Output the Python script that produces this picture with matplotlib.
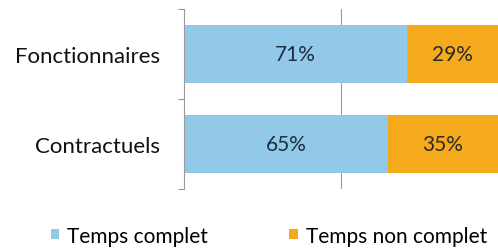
import matplotlib.pyplot as plt
import numpy as np

categories = ['Contractuels', 'Fonctionnaires']
temps_complet = [65, 71]
temps_non_complet = [35, 29]
series_names = ['Temps complet', 'Temps non complet']

blue = '#93c9e8'
orange = '#f5aa1c'

plt.rcParams['font.family'] = ['Lato', 'DejaVu Sans']

fig = plt.figure(figsize=(4.98, 2.53), dpi=100)
ax = fig.add_axes([0.369, 0.249, 0.631, 0.711])

y = np.arange(len(categories))
h = 0.64
b1 = ax.barh(y, temps_complet, height=h, color=blue, label=series_names[0])
b2 = ax.barh(y, temps_non_complet, left=temps_complet, height=h, color=orange,
             label=series_names[1])

for i in range(len(categories)):
    ax.text(temps_complet[i] / 2, y[i], f'{temps_complet[i]}%', ha='center', va='center',
            fontsize=15, color='#1f2d44')
    ax.text(temps_complet[i] + temps_non_complet[i] / 2, y[i], f'{temps_non_complet[i]}%',
            ha='center', va='center', fontsize=15, color='#2a2a2a')

ax.set_xlim(0, 100)
ax.set_ylim(-0.5, 1.5)
ax.set_xticks([])
ax.axvline(50, color='#9a9a9a', lw=0.8, zorder=0)
ax.set_yticks(y)
ax.set_yticklabels(categories, fontsize=16, color='#111111')
ax.set_yticks([-0.5, 0.5, 1.5], minor=True)
ax.tick_params(axis='y', which='major', length=0, pad=17)
ax.tick_params(axis='y', which='minor', length=4, color='#9a9a9a', width=0.8)
for s in ['top', 'right', 'bottom']:
    ax.spines[s].set_visible(False)
ax.spines['left'].set_color('#9a9a9a')
ax.spines['left'].set_linewidth(0.8)

fig.legend(handles=[b1, b2], loc='center', bbox_to_anchor=(0.54, 0.065), ncol=2,
           frameon=False, prop={'size': 15}, handlelength=0.4,
           handleheight=0.4, handletextpad=0.4, columnspacing=3.9)

fig.savefig('out.png', dpi=100)
